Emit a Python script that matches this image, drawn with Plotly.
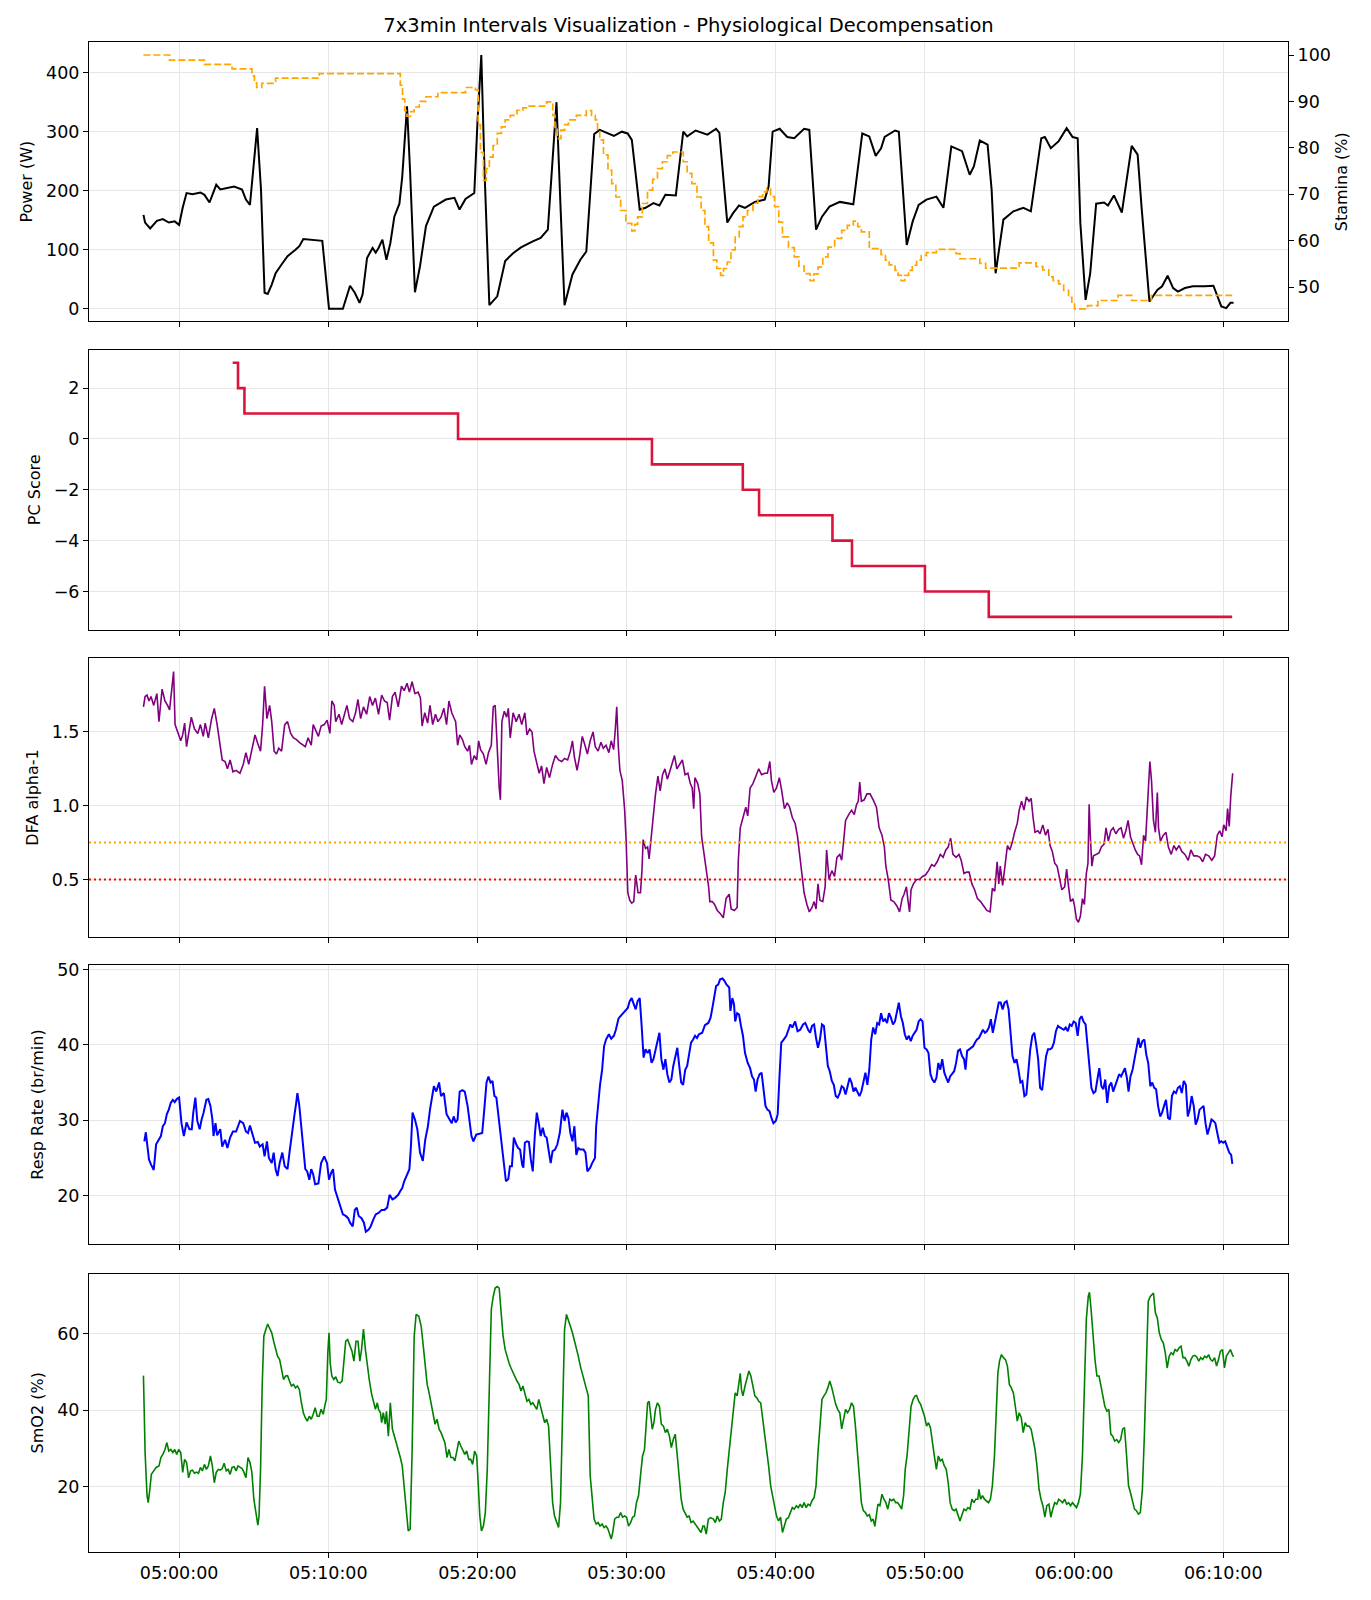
import pandas as pd
import plotly.graph_objects as go

# ---------------- data (t = minutes relative to 05:00:00) ----------------
power_pts = [(-2.39,159),(-2.28,146),(-1.94,136),(-1.49,149),(-1.09,152),(-0.69,146),(-0.29,148),(0,142),(0.24,171),(0.5,196),(0.9,194),(1.43,197),(1.7,193),(2.04,180),(2.49,210),(2.76,202),(3.69,207),(4.22,202),(4.48,185),(4.75,176),(5.23,306),(5.49,202),(5.73,27),(5.94,25),(6.21,41),(6.47,60),(6.87,75),(7.27,89),(7.8,100),(8.06,106),(8.33,118),(9.0,117),(9.6,115),(10.05,0),(10.98,0),(11.46,39),(11.78,27),(12.1,10),(12.3,24),(12.6,86),(12.97,103),(13.18,95),(13.37,103),(13.63,117),(13.9,83),(14.16,111),(14.43,156),(14.77,178),(14.96,224),(15.28,343),(15.49,230),(15.81,28),(16.15,72),(16.55,140),(17.08,173),(17.48,179),(17.88,185),(18.46,188),(18.8,168),(19.2,186),(19.6,192),(19.79,196),(20.0,315),(20.26,430),(20.48,230),(20.8,6),(21.33,21),(21.86,81),(22.39,94),(22.92,104),(23.71,114),(24.24,120),(24.72,134),(24.9,207),(25.3,350),(25.57,173),(25.84,6),(26.37,58),(26.9,83),(27.3,97),(27.56,202),(27.83,296),(28.2,303),(29.15,293),(29.68,300),(30.07,297),(30.35,286),(30.88,168),(31.27,171),(31.8,179),(32.2,175),(32.6,193),(33.3,192),(33.53,241),(33.8,300),(34.06,292),(34.63,302),(35.42,295),(36.0,305),(36.22,298),(36.75,146),(37.14,162),(37.54,175),(37.94,171),(38.6,181),(39.26,185),(39.52,207),(39.79,300),(40.26,305),(40.77,291),(41.24,289),(41.9,305),(42.25,303),(42.7,134),(43.1,156),(43.6,173),(44.3,181),(45.2,177),(45.6,264),(45.8,297),(46.27,292),(46.7,259),(47.06,272),(47.3,291),(48.0,302),(48.25,300),(48.78,108),(49.18,148),(49.58,176),(50.1,185),(50.77,190),(51.24,171),(51.77,275),(52.49,267),(53.0,227),(53.28,241),(53.68,285),(54.2,278),(54.47,202),(54.74,60),(55.26,151),(55.93,165),(56.6,171),(57.1,165),(57.8,289),(58.04,291),(58.44,272),(58.97,284),(59.5,306),(59.9,291),(60.24,289),(60.42,145),(60.77,15),(61.08,60),(61.48,178),(62.01,180),(62.27,175),(62.67,192),(63.2,163),(63.47,207),(63.86,276),(64.26,261),(64.52,173),(65.05,12),(65.58,32),(65.9,38),(66.27,56),(66.64,35),(66.96,29),(67.43,35),(67.96,38),(68.76,38),(69.34,39),(69.87,4),(70.2,1),(70.48,10),(70.69,10)]

stamina_pts = [(-2.39,100),(-0.64,98.9),(1.7,98),(3.55,97),(4.88,95.5),(5.05,94),(5.2,93),(5.54,93.9),(6.47,95),(9.39,96),(14.83,93.5),(14.98,90.5),(15.13,88),(15.28,86.8),(15.52,87.8),(15.76,88.8),(16.1,90),(16.55,91),(17.35,91.9),(19.2,93),(19.87,92.5),(20.05,85),(20.2,79),(20.4,73),(20.6,75.5),(20.8,78),(21.05,80.5),(21.33,83.1),(21.6,84.5),(21.86,86),(22.2,87),(22.65,88.1),(23.05,88.6),(23.45,89),(24.64,89.9),(25.05,87),(25.2,84),(25.35,82),(25.6,83.8),(25.85,85),(26.1,86),(26.63,87),(27.3,88),(27.65,87),(27.9,86),(28.05,84),(28.2,81.7),(28.45,78.5),(28.75,75.2),(29.0,72.3),(29.28,69.4),(29.6,66.5),(29.95,63.7),(30.35,62.1),(30.55,63.5),(30.74,65.1),(31.05,68),(31.4,70.9),(31.75,73.2),(32.07,75.5),(32.4,77),(32.73,78.3),(33.1,79.1),(33.8,77),(34.06,74.5),(34.37,72.3),(34.72,69.4),(35.0,66.5),(35.25,63),(35.5,59.5),(35.82,55.8),(36.05,54),(36.3,52.5),(36.5,54),(36.75,55.4),(37.0,58),(37.28,60.8),(37.55,63),(37.8,65.1),(38.1,66.5),(38.47,68.1),(38.8,69.5),(39.13,70.5),(39.4,71.2),(39.65,69.5),(39.92,67.3),(40.2,64),(40.45,60.8),(40.85,58.5),(41.24,56.5),(41.55,54.5),(41.9,52.9),(42.3,51.4),(42.55,52.8),(42.83,54.3),(43.15,56.5),(43.5,58.6),(43.95,60.5),(44.42,62.2),(44.8,63.3),(45.2,64.2),(45.5,63),(45.74,61.9),(46.27,58.3),(47.06,57),(47.35,55.8),(47.6,54.8),(48.0,53.6),(48.2,52.5),(48.4,51.4),(48.65,52.5),(48.9,53.6),(49.15,54.7),(49.44,55.8),(49.75,56.8),(50.1,57.4),(50.77,58.1),(52.09,57.2),(52.35,56.1),(53.68,55.1),(54.07,54.1),(56.32,55.2),(57.45,54.4),(57.9,53.7),(58.3,52.2),(58.6,51.4),(58.97,50.7),(59.3,49.3),(59.63,47.8),(59.85,46.5),(60.03,45.3),(60.9,46),(61.6,47.1),(62.94,48.2),(63.86,47.1),(65.18,48.2),(70.6,48.2)]

pc_pts = [(3.59,3),(3.95,2),(4.38,1),(18.70,0),(31.70,-1),(37.79,-2),(38.88,-3),(43.80,-4),(45.11,-5),(50.0,-6),(54.28,-7),(70.6,-7)]

dfa_pts = [(-2.39,1.67),(-2.28,1.74),(-2.15,1.75),(-2.02,1.71),(-1.88,1.74),(-1.7,1.68),(-1.49,1.76),(-1.35,1.57),(-1.14,1.79),(-0.95,1.71),(-0.77,1.68),(-0.64,1.65),(-0.48,1.80),(-0.37,1.91),(-0.27,1.55),(-0.11,1.50),(0.11,1.44),(0.24,1.48),(0.37,1.56),(0.5,1.40),(0.64,1.50),(0.82,1.60),(1.03,1.52),(1.25,1.49),(1.43,1.55),(1.62,1.47),(1.75,1.56),(1.96,1.46),(2.18,1.59),(2.36,1.66),(2.55,1.55),(2.71,1.45),(2.89,1.31),(3.08,1.30),(3.24,1.25),(3.42,1.31),(3.61,1.23),(3.82,1.24),(4.08,1.22),(4.3,1.28),(4.48,1.36),(4.67,1.28),(4.88,1.39),(5.09,1.48),(5.28,1.42),(5.46,1.37),(5.6,1.55),(5.73,1.81),(5.89,1.59),(6.07,1.68),(6.21,1.57),(6.37,1.37),(6.53,1.35),(6.68,1.39),(6.87,1.37),(7.08,1.55),(7.27,1.57),(7.48,1.49),(7.67,1.46),(7.85,1.45),(8.06,1.43),(8.28,1.41),(8.46,1.40),(8.65,1.46),(8.86,1.41),(8.99,1.55),(9.18,1.50),(9.34,1.47),(9.52,1.54),(9.73,1.55),(9.92,1.58),(10.11,1.49),(10.24,1.71),(10.4,1.68),(10.5,1.57),(10.72,1.62),(10.9,1.55),(11.11,1.62),(11.25,1.68),(11.43,1.59),(11.64,1.57),(11.83,1.63),(11.99,1.72),(12.17,1.59),(12.36,1.67),(12.57,1.62),(12.78,1.74),(12.97,1.68),(13.16,1.73),(13.37,1.62),(13.58,1.75),(13.77,1.71),(13.95,1.70),(14.11,1.58),(14.3,1.74),(14.48,1.77),(14.69,1.67),(14.91,1.81),(15.09,1.78),(15.28,1.83),(15.44,1.77),(15.62,1.84),(15.81,1.76),(16.02,1.77),(16.18,1.73),(16.29,1.54),(16.47,1.63),(16.66,1.56),(16.82,1.68),(17.0,1.55),(17.19,1.62),(17.35,1.57),(17.56,1.60),(17.75,1.66),(17.93,1.55),(18.09,1.71),(18.28,1.63),(18.41,1.60),(18.54,1.57),(18.67,1.41),(18.81,1.48),(18.99,1.45),(19.15,1.40),(19.34,1.37),(19.47,1.41),(19.6,1.28),(19.79,1.34),(19.95,1.31),(20.08,1.44),(20.21,1.38),(20.4,1.35),(20.58,1.28),(20.74,1.36),(20.93,1.41),(21.06,1.67),(21.19,1.68),(21.33,1.37),(21.46,1.12),(21.54,1.04),(21.64,1.57),(21.8,1.64),(21.96,1.60),(22.07,1.66),(22.2,1.46),(22.39,1.63),(22.6,1.57),(22.79,1.62),(22.97,1.55),(23.18,1.63),(23.32,1.48),(23.5,1.52),(23.66,1.50),(23.79,1.37),(23.98,1.28),(24.14,1.22),(24.3,1.27),(24.46,1.15),(24.64,1.26),(24.83,1.19),(25.04,1.28),(25.23,1.34),(25.44,1.31),(25.65,1.30),(25.84,1.32),(26.05,1.31),(26.23,1.37),(26.37,1.44),(26.5,1.33),(26.68,1.24),(26.84,1.33),(27.03,1.47),(27.21,1.41),(27.37,1.35),(27.56,1.44),(27.75,1.50),(27.9,1.40),(28.09,1.37),(28.28,1.43),(28.44,1.39),(28.62,1.41),(28.81,1.36),(28.97,1.44),(29.13,1.38),(29.23,1.50),(29.34,1.67),(29.44,1.41),(29.55,1.24),(29.71,1.17),(29.87,0.97),(29.97,0.76),(30.08,0.41),(30.21,0.36),(30.34,0.34),(30.48,0.35),(30.61,0.53),(30.77,0.41),(30.93,0.41),(31.03,0.56),(31.11,0.77),(31.27,0.71),(31.41,0.72),(31.51,0.64),(31.67,0.83),(31.83,0.97),(31.94,1.08),(32.1,1.20),(32.25,1.10),(32.41,1.21),(32.57,1.25),(32.73,1.18),(32.89,1.23),(33.05,1.28),(33.21,1.34),(33.37,1.25),(33.53,1.28),(33.74,1.31),(33.92,1.21),(34.11,1.22),(34.27,1.15),(34.4,1.12),(34.5,0.98),(34.58,1.19),(34.77,1.15),(34.91,1.08),(35.03,0.79),(35.21,0.67),(35.37,0.54),(35.5,0.45),(35.58,0.35),(35.74,0.35),(35.9,0.33),(36.08,0.29),(36.27,0.27),(36.48,0.24),(36.67,0.37),(36.88,0.40),(37.01,0.30),(37.22,0.29),(37.41,0.31),(37.49,0.63),(37.62,0.85),(37.8,0.92),(37.99,0.99),(38.12,0.93),(38.28,1.12),(38.47,1.15),(38.65,1.20),(38.86,1.25),(39.05,1.21),(39.26,1.22),(39.44,1.22),(39.6,1.30),(39.71,1.17),(39.87,1.09),(40.05,1.12),(40.24,1.19),(40.4,1.10),(40.58,0.98),(40.77,1.02),(40.93,0.99),(41.11,0.92),(41.3,0.88),(41.46,0.79),(41.59,0.67),(41.72,0.54),(41.9,0.41),(42.09,0.33),(42.25,0.28),(42.43,0.31),(42.57,0.35),(42.7,0.30),(42.83,0.47),(42.96,0.36),(43.15,0.35),(43.31,0.45),(43.41,0.70),(43.57,0.50),(43.76,0.56),(43.94,0.52),(44.1,0.65),(44.29,0.67),(44.42,0.63),(44.55,0.76),(44.68,0.90),(44.89,0.94),(45.08,0.97),(45.26,0.94),(45.42,1.01),(45.53,1.03),(45.63,1.16),(45.74,1.03),(45.93,1.04),(46.11,1.08),(46.32,1.08),(46.53,1.04),(46.75,0.99),(46.93,0.85),(47.12,0.80),(47.28,0.72),(47.38,0.59),(47.54,0.50),(47.72,0.36),(47.91,0.35),(48.12,0.32),(48.3,0.28),(48.47,0.37),(48.6,0.40),(48.76,0.45),(48.86,0.36),(48.97,0.28),(49.07,0.43),(49.23,0.47),(49.44,0.50),(49.63,0.50),(49.84,0.52),(50.03,0.53),(50.24,0.56),(50.45,0.60),(50.63,0.59),(50.82,0.62),(51.03,0.67),(51.22,0.65),(51.4,0.70),(51.56,0.72),(51.72,0.78),(51.88,0.67),(52.09,0.65),(52.28,0.67),(52.43,0.63),(52.62,0.54),(52.8,0.55),(52.96,0.55),(53.15,0.47),(53.33,0.43),(53.52,0.37),(53.73,0.35),(53.94,0.32),(54.15,0.29),(54.37,0.28),(54.52,0.44),(54.68,0.42),(54.84,0.62),(54.95,0.47),(55.05,0.59),(55.21,0.46),(55.37,0.61),(55.53,0.73),(55.69,0.70),(55.85,0.75),(56.01,0.82),(56.19,0.88),(56.32,0.97),(56.48,1.03),(56.64,0.97),(56.8,1.06),(56.98,1.03),(57.12,1.05),(57.25,0.92),(57.38,0.82),(57.57,0.83),(57.72,0.81),(57.9,0.87),(58.09,0.80),(58.25,0.84),(58.39,0.73),(58.54,0.69),(58.7,0.61),(58.86,0.59),(59.02,0.50),(59.18,0.43),(59.37,0.45),(59.5,0.57),(59.63,0.45),(59.76,0.35),(59.92,0.37),(60.03,0.32),(60.16,0.23),(60.29,0.21),(60.42,0.25),(60.56,0.37),(60.69,0.33),(60.82,0.54),(60.93,0.61),(61.01,1.01),(61.08,0.81),(61.19,0.59),(61.3,0.66),(61.48,0.67),(61.67,0.68),(61.83,0.72),(62.01,0.74),(62.14,0.85),(62.3,0.76),(62.46,0.83),(62.62,0.85),(62.8,0.81),(62.99,0.84),(63.15,0.85),(63.31,0.78),(63.47,0.83),(63.62,0.90),(63.78,0.79),(63.94,0.74),(64.1,0.70),(64.26,0.67),(64.39,0.66),(64.52,0.60),(64.66,0.80),(64.79,0.76),(64.92,0.97),(65.0,1.15),(65.08,1.30),(65.19,1.17),(65.32,0.90),(65.45,0.82),(65.58,1.09),(65.66,0.85),(65.79,0.76),(65.98,0.80),(66.16,0.82),(66.32,0.72),(66.51,0.67),(66.69,0.73),(66.85,0.70),(67.04,0.73),(67.22,0.69),(67.43,0.67),(67.65,0.63),(67.83,0.70),(68.02,0.66),(68.23,0.66),(68.44,0.65),(68.62,0.62),(68.81,0.67),(69.02,0.66),(69.23,0.63),(69.42,0.66),(69.6,0.80),(69.76,0.83),(69.92,0.79),(70.03,0.87),(70.19,0.83),(70.29,0.98),(70.4,0.86),(70.5,1.06),(70.63,1.22)]

resp_pts = [(-2.33,27.2),(-2.23,28.4),(-2.15,27.0),(-2.02,24.8),(-1.88,24.1),(-1.7,23.4),(-1.54,26.8),(-1.35,27.4),(-1.22,27.9),(-1.09,29.2),(-0.95,29.6),(-0.82,30.8),(-0.69,31.4),(-0.56,32.3),(-0.42,32.7),(-0.29,32.4),(-0.16,32.8),(0,33.0),(0.16,29.6),(0.32,27.9),(0.5,29.7),(0.69,28.8),(0.85,28.8),(0.95,31.0),(1.09,33.0),(1.22,29.9),(1.38,28.8),(1.51,30.1),(1.64,31.0),(1.83,32.7),(1.96,32.8),(2.1,31.9),(2.23,30.1),(2.31,27.9),(2.44,29.6),(2.55,28.0),(2.76,28.8),(2.89,26.5),(3.08,27.4),(3.24,26.3),(3.42,27.7),(3.61,28.5),(3.82,28.5),(4.08,29.9),(4.3,29.6),(4.48,28.5),(4.62,28.3),(4.75,29.3),(4.93,27.9),(5.09,27.0),(5.28,27.1),(5.41,26.5),(5.6,26.8),(5.73,25.2),(5.89,27.2),(6.02,25.0),(6.21,24.3),(6.34,25.7),(6.47,23.5),(6.6,22.6),(6.74,24.3),(6.92,25.7),(7.08,23.9),(7.27,23.5),(7.4,25.7),(7.53,27.9),(7.72,30.5),(7.85,32.3),(7.93,33.6),(8.06,31.9),(8.2,28.8),(8.33,26.1),(8.46,23.5),(8.59,23.2),(8.73,22.1),(8.86,23.5),(8.99,22.8),(9.12,21.5),(9.34,21.6),(9.52,24.3),(9.73,25.2),(9.92,24.3),(10.05,22.1),(10.19,23.0),(10.32,23.5),(10.45,20.8),(10.64,19.7),(10.8,18.6),(10.98,17.5),(11.17,17.3),(11.33,17.0),(11.46,16.4),(11.64,15.9),(11.78,18.1),(11.91,18.4),(12.04,17.3),(12.23,17.0),(12.39,16.4),(12.52,15.2),(12.71,15.5),(12.84,15.9),(13.02,16.8),(13.18,17.5),(13.37,17.7),(13.58,18.1),(13.77,18.1),(13.95,18.4),(14.11,20.1),(14.3,19.5),(14.48,19.7),(14.69,20.1),(14.83,20.6),(14.96,21.0),(15.09,21.9),(15.28,22.8),(15.44,23.5),(15.54,26.5),(15.65,31.0),(15.81,30.1),(15.97,28.8),(16.15,25.7),(16.34,24.6),(16.5,27.4),(16.68,29.2),(16.82,31.4),(16.95,33.2),(17.08,34.5),(17.24,33.8),(17.43,35.0),(17.56,33.2),(17.75,33.6),(17.93,30.8),(18.09,30.2),(18.28,29.6),(18.41,30.5),(18.54,29.7),(18.67,30.1),(18.81,33.8),(18.99,34.0),(19.15,33.8),(19.34,31.9),(19.47,29.6),(19.6,27.9),(19.73,27.2),(19.92,28.1),(20.13,28.2),(20.32,28.3),(20.48,31.9),(20.61,35.0),(20.74,35.8),(20.88,35.0),(21.01,35.2),(21.14,33.2),(21.27,33.0),(21.38,31.0),(21.51,29.2),(21.64,26.5),(21.78,23.9),(21.91,21.9),(22.07,22.2),(22.18,23.9),(22.31,23.9),(22.44,27.7),(22.6,26.8),(22.73,26.3),(22.86,26.1),(23.0,24.1),(23.08,23.7),(23.18,27.0),(23.32,27.2),(23.45,27.1),(23.58,24.8),(23.71,23.2),(23.85,28.1),(23.98,31.0),(24.11,29.6),(24.24,27.9),(24.38,29.0),(24.51,27.9),(24.64,27.7),(24.77,25.9),(24.91,24.3),(25.04,25.9),(25.2,26.1),(25.36,26.8),(25.52,28.3),(25.7,31.4),(25.84,29.9),(25.97,31.0),(26.1,30.3),(26.23,28.3),(26.37,27.2),(26.5,29.2),(26.63,25.4),(26.76,26.3),(26.9,26.1),(27.11,26.1),(27.24,25.7),(27.37,23.2),(27.56,23.7),(27.69,24.3),(27.88,25.0),(27.96,29.2),(28.09,32.3),(28.22,34.7),(28.36,36.7),(28.49,39.8),(28.62,40.7),(28.81,41.4),(28.97,40.8),(29.15,41.2),(29.28,42.0),(29.46,43.5),(29.68,44.0),(29.87,44.5),(30.08,44.9),(30.21,45.8),(30.34,46.2),(30.48,45.4),(30.61,44.7),(30.74,45.8),(30.88,46.2),(31.01,42.5),(31.14,38.3),(31.27,39.4),(31.41,38.9),(31.54,39.4),(31.67,37.6),(31.8,38.1),(31.94,39.2),(32.07,40.5),(32.2,41.6),(32.33,38.1),(32.47,36.7),(32.6,38.1),(32.73,36.1),(32.87,35.0),(33.0,35.4),(33.13,37.2),(33.26,38.5),(33.4,39.6),(33.53,37.2),(33.66,35.0),(33.79,34.7),(33.93,36.7),(34.06,37.2),(34.19,38.7),(34.32,40.3),(34.46,40.7),(34.59,41.2),(34.72,40.9),(34.85,41.4),(35.07,41.6),(35.25,42.6),(35.48,42.9),(35.63,43.6),(35.77,45.1),(35.9,46.5),(36.0,47.8),(36.14,48.0),(36.27,48.7),(36.43,48.8),(36.56,48.5),(36.69,48.0),(36.88,47.6),(36.96,44.5),(37.09,46.2),(37.2,45.4),(37.28,43.1),(37.41,44.2),(37.54,44.0),(37.67,42.5),(37.8,41.2),(37.94,38.9),(38.12,37.6),(38.28,36.9),(38.41,35.8),(38.54,35.4),(38.65,33.8),(38.78,35.4),(38.92,36.1),(39.05,36.3),(39.18,33.6),(39.31,31.9),(39.44,31.4),(39.58,31.2),(39.71,30.3),(39.84,29.6),(40.0,29.9),(40.13,30.8),(40.24,35.4),(40.37,40.3),(40.53,40.7),(40.71,41.2),(40.85,42.0),(40.98,42.7),(41.11,42.3),(41.3,43.1),(41.46,41.8),(41.64,42.0),(41.83,42.7),(41.98,42.9),(42.17,42.0),(42.3,41.6),(42.43,42.5),(42.57,42.7),(42.7,40.9),(42.83,39.6),(42.96,40.7),(43.1,42.7),(43.23,42.5),(43.36,39.8),(43.49,37.2),(43.62,36.5),(43.76,35.2),(43.89,34.7),(44.02,33.2),(44.15,33.0),(44.29,33.6),(44.42,34.5),(44.55,34.3),(44.68,33.4),(44.81,34.7),(44.95,35.6),(45.08,35.0),(45.21,33.8),(45.34,34.3),(45.48,33.8),(45.61,33.2),(45.74,33.8),(45.87,35.0),(46.01,36.3),(46.14,34.7),(46.27,36.7),(46.4,40.7),(46.53,42.3),(46.67,41.4),(46.8,42.9),(46.93,42.7),(47.06,44.2),(47.2,43.1),(47.33,43.4),(47.46,42.9),(47.59,44.2),(47.72,43.6),(47.86,42.7),(47.99,43.1),(48.12,44.2),(48.25,45.6),(48.39,43.8),(48.52,42.9),(48.65,41.4),(48.78,40.7),(48.92,41.2),(49.05,40.5),(49.18,41.2),(49.31,41.6),(49.44,42.0),(49.58,43.1),(49.71,43.4),(49.84,43.1),(49.97,39.6),(50.11,39.4),(50.24,38.9),(50.37,36.1),(50.5,35.4),(50.63,35.0),(50.77,35.6),(50.9,37.6),(51.03,36.7),(51.16,38.1),(51.3,36.3),(51.43,35.6),(51.56,35.0),(51.69,35.8),(51.83,36.1),(51.96,36.5),(52.09,37.6),(52.22,39.2),(52.35,39.4),(52.49,38.5),(52.62,38.1),(52.72,36.7),(52.83,39.2),(52.96,39.4),(53.1,39.6),(53.23,39.8),(53.36,40.3),(53.49,40.7),(53.62,40.9),(53.76,41.4),(53.89,42.0),(54.02,41.6),(54.15,41.8),(54.29,42.3),(54.42,43.4),(54.55,41.6),(54.68,42.9),(54.81,43.8),(54.95,45.6),(55.08,45.6),(55.21,44.7),(55.34,45.6),(55.48,45.8),(55.61,44.7),(55.74,41.6),(55.87,38.5),(56.01,37.6),(56.14,38.1),(56.27,36.7),(56.4,35.0),(56.53,35.2),(56.67,33.2),(56.8,33.4),(56.93,36.7),(57.06,39.4),(57.2,41.2),(57.33,41.6),(57.46,40.0),(57.59,38.1),(57.72,34.3),(57.86,34.0),(57.99,36.3),(58.12,38.5),(58.25,39.4),(58.39,39.4),(58.52,39.6),(58.65,40.3),(58.78,41.8),(58.92,42.5),(59.05,42.3),(59.18,42.1),(59.31,42.0),(59.44,42.3),(59.58,41.8),(59.71,42.7),(59.84,42.5),(59.97,43.1),(60.11,42.9),(60.24,41.2),(60.37,43.4),(60.5,43.8),(60.63,43.1),(60.77,42.7),(60.9,39.8),(61.03,36.7),(61.16,34.3),(61.3,33.6),(61.43,33.8),(61.56,35.4),(61.69,36.9),(61.83,34.5),(61.96,34.1),(62.09,35.4),(62.22,32.3),(62.35,34.5),(62.49,35.0),(62.62,33.8),(62.75,34.5),(62.88,35.2),(63.02,36.1),(63.15,35.8),(63.28,36.3),(63.41,36.9),(63.54,35.6),(63.65,33.8),(63.78,35.8),(63.92,36.7),(64.05,38.1),(64.18,39.4),(64.31,40.9),(64.44,39.6),(64.58,40.5),(64.71,40.7),(64.84,38.7),(64.97,37.6),(65.11,34.5),(65.24,35.0),(65.37,34.3),(65.5,34.1),(65.63,31.9),(65.77,30.5),(65.9,31.0),(66.03,31.9),(66.16,32.7),(66.3,30.3),(66.43,30.1),(66.56,33.2),(66.69,33.8),(66.83,33.6),(66.96,34.3),(67.09,34.5),(67.22,33.6),(67.35,35.2),(67.49,34.7),(67.62,30.5),(67.75,31.4),(67.88,33.2),(68.02,31.9),(68.15,29.4),(68.28,30.1),(68.41,31.4),(68.54,31.6),(68.68,31.9),(68.81,29.6),(68.94,28.1),(69.07,29.0),(69.21,30.1),(69.34,29.9),(69.47,29.6),(69.6,28.3),(69.74,27.0),(69.87,27.2),(70.0,27.0),(70.13,27.2),(70.26,26.5),(70.4,25.7),(70.53,25.4),(70.61,24.2)]

smo2_pts = [(-2.39,49.0),(-2.28,28.9),(-2.15,17.6),(-2.07,15.8),(-1.96,19.3),(-1.86,23.2),(-1.7,24.1),(-1.54,25.0),(-1.35,25.4),(-1.22,27.6),(-1.09,28.4),(-0.95,29.7),(-0.82,31.5),(-0.69,29.3),(-0.56,29.7),(-0.42,28.9),(-0.29,29.7),(-0.16,28.4),(-0.03,29.7),(0.11,28.9),(0.24,23.7),(0.37,27.1),(0.5,26.3),(0.64,22.3),(0.77,24.1),(0.9,24.3),(1.03,23.5),(1.17,23.8),(1.3,23.5),(1.43,25.0),(1.56,24.1),(1.7,25.8),(1.83,24.5),(1.96,25.4),(2.1,28.0),(2.23,25.4),(2.36,21.0),(2.49,23.7),(2.63,24.5),(2.76,24.3),(2.89,24.7),(3.02,26.1),(3.16,24.1),(3.29,24.5),(3.42,23.2),(3.55,25.0),(3.69,25.2),(3.82,24.1),(3.95,25.4),(4.08,25.0),(4.22,24.7),(4.35,23.7),(4.48,22.3),(4.62,27.6),(4.75,26.3),(4.88,23.7),(5.01,16.7),(5.15,13.2),(5.28,9.9),(5.36,12.3),(5.46,24.5),(5.57,46.3),(5.68,59.3),(5.81,61.0),(5.94,62.5),(6.07,61.4),(6.21,60.2),(6.34,58.0),(6.47,56.3),(6.6,54.1),(6.74,53.2),(6.87,51.0),(7.0,48.0),(7.14,48.9),(7.27,49.0),(7.4,47.6),(7.53,46.3),(7.67,46.7),(7.8,45.8),(7.93,46.3),(8.06,45.4),(8.2,41.9),(8.33,39.3),(8.46,38.0),(8.59,37.1),(8.73,38.4),(8.86,37.6),(8.99,38.9),(9.12,40.6),(9.26,38.4),(9.39,38.4),(9.52,40.2),(9.66,38.9),(9.79,41.5),(9.87,42.8),(9.97,55.0),(10.05,60.2),(10.13,52.3),(10.24,48.9),(10.37,48.0),(10.5,48.7),(10.64,47.3),(10.8,47.1),(10.93,47.6),(11.03,51.5),(11.17,58.0),(11.3,58.4),(11.46,56.7),(11.59,55.4),(11.72,52.8),(11.86,58.0),(11.99,58.0),(12.12,52.8),(12.23,55.8),(12.36,61.2),(12.49,55.8),(12.63,51.0),(12.76,47.6),(12.89,44.5),(13.02,42.3),(13.16,40.2),(13.29,41.9),(13.37,40.2),(13.5,39.3),(13.58,36.7),(13.69,39.3),(13.82,36.3),(13.9,39.7),(14.03,33.2),(14.16,41.9),(14.3,35.0),(14.43,33.2),(14.56,31.5),(14.69,29.3),(14.83,27.6),(14.96,25.4),(15.09,20.2),(15.23,13.2),(15.36,8.4),(15.49,8.9),(15.62,28.9),(15.76,59.3),(15.89,65.0),(16.07,64.5),(16.23,61.9),(16.37,56.7),(16.5,51.5),(16.63,46.7),(16.76,44.5),(16.9,41.9),(17.03,39.3),(17.16,36.3),(17.29,37.6),(17.43,35.0),(17.56,34.1),(17.69,32.8),(17.82,31.5),(17.96,27.6),(18.09,29.7),(18.22,27.6),(18.36,27.6),(18.49,26.7),(18.62,29.8),(18.75,31.9),(18.89,30.6),(19.02,29.7),(19.15,28.4),(19.28,29.3),(19.42,27.1),(19.55,27.1),(19.68,25.8),(19.81,29.3),(19.95,28.0),(20.05,21.0),(20.16,12.3),(20.27,8.4),(20.4,9.7),(20.53,13.2),(20.66,24.5),(20.8,46.3),(20.93,66.3),(21.06,69.7),(21.19,71.9),(21.33,72.3),(21.46,71.9),(21.59,65.4),(21.72,59.3),(21.86,55.8),(21.99,53.7),(22.12,52.3),(22.25,51.0),(22.39,49.7),(22.52,48.4),(22.65,47.6),(22.79,46.7),(22.92,45.0),(23.05,46.3),(23.18,44.5),(23.32,42.3),(23.45,42.8),(23.58,41.5),(23.71,41.9),(23.85,41.0),(23.98,40.2),(24.11,42.8),(24.24,41.0),(24.38,38.4),(24.51,36.7),(24.64,37.6),(24.77,35.8),(24.91,25.4),(25.04,15.8),(25.17,12.3),(25.3,10.6),(25.44,9.3),(25.57,15.8),(25.7,37.6),(25.84,61.0),(25.97,65.0),(26.1,63.7),(26.23,61.9),(26.37,60.2),(26.5,58.4),(26.63,56.3),(26.76,54.1),(26.9,51.5),(27.03,49.7),(27.16,48.0),(27.29,46.3),(27.43,43.7),(27.56,22.8),(27.69,15.8),(27.82,11.5),(27.96,10.2),(28.09,10.6),(28.22,9.7),(28.36,10.2),(28.49,9.3),(28.62,9.7),(28.75,8.9),(28.89,7.1),(28.97,6.3),(29.07,8.0),(29.2,11.5),(29.34,12.0),(29.47,12.0),(29.6,13.2),(29.73,12.0),(29.87,12.3),(30.0,12.0),(30.13,9.7),(30.27,10.6),(30.4,12.0),(30.53,12.3),(30.66,15.8),(30.8,17.6),(30.93,22.8),(31.07,28.0),(31.2,29.7),(31.3,35.0),(31.41,41.9),(31.51,42.3),(31.62,38.4),(31.72,35.0),(31.83,36.7),(31.94,40.2),(32.07,41.9),(32.2,41.0),(32.33,36.3),(32.47,35.8),(32.6,34.1),(32.73,35.0),(32.87,33.2),(33.0,30.2),(33.13,32.3),(33.26,33.7),(33.4,28.0),(33.53,22.8),(33.66,16.7),(33.79,14.1),(33.93,13.2),(34.06,12.0),(34.19,12.3),(34.32,10.6),(34.46,11.0),(34.59,10.2),(34.72,9.7),(34.85,8.9),(34.99,8.0),(35.12,9.7),(35.21,9.7),(35.34,7.6),(35.48,11.5),(35.63,11.9),(35.82,11.5),(35.95,10.6),(36.08,12.3),(36.22,11.0),(36.35,11.5),(36.48,15.8),(36.61,18.4),(36.75,24.5),(36.88,29.7),(37.01,35.0),(37.14,39.3),(37.28,44.5),(37.41,43.7),(37.54,48.0),(37.62,49.6),(37.7,45.4),(37.8,43.7),(37.94,46.3),(38.07,48.0),(38.2,50.2),(38.33,48.9),(38.47,46.3),(38.6,43.7),(38.73,43.2),(38.86,42.3),(38.99,41.9),(39.13,37.6),(39.26,34.1),(39.39,30.6),(39.52,25.4),(39.66,20.2),(39.79,17.6),(39.92,15.4),(40.05,12.3),(40.19,11.0),(40.32,12.0),(40.45,8.0),(40.58,9.7),(40.71,11.5),(40.85,11.9),(40.98,13.2),(41.11,14.5),(41.24,14.1),(41.38,15.0),(41.51,14.5),(41.64,15.4),(41.77,14.5),(41.9,15.8),(42.04,14.5),(42.17,15.4),(42.3,15.0),(42.43,16.3),(42.57,17.1),(42.7,20.2),(42.83,28.9),(42.96,35.0),(43.1,42.8),(43.23,43.7),(43.36,44.5),(43.49,45.8),(43.62,47.6),(43.76,45.8),(43.89,43.2),(44.02,41.5),(44.15,40.2),(44.29,39.3),(44.42,35.1),(44.55,37.6),(44.68,40.2),(44.81,39.3),(44.95,40.2),(45.08,41.9),(45.21,41.0),(45.34,35.8),(45.48,28.9),(45.61,21.9),(45.74,15.8),(45.87,13.7),(46.01,13.2),(46.14,12.3),(46.27,12.7),(46.4,11.0),(46.53,11.5),(46.64,9.6),(46.75,12.3),(46.85,15.4),(46.98,15.0),(47.12,18.0),(47.25,16.7),(47.38,15.8),(47.51,14.1),(47.65,16.7),(47.78,16.3),(47.91,16.7),(48.04,15.8),(48.17,15.8),(48.31,15.0),(48.44,14.1),(48.57,17.6),(48.68,24.5),(48.81,28.4),(48.94,35.0),(49.07,41.0),(49.21,42.8),(49.34,43.7),(49.44,43.8),(49.58,42.3),(49.71,41.5),(49.84,40.2),(49.97,38.4),(50.11,35.8),(50.24,36.7),(50.37,35.4),(50.5,32.3),(50.63,28.0),(50.77,24.5),(50.9,28.0),(51.03,26.7),(51.16,27.1),(51.3,25.4),(51.43,24.5),(51.56,21.0),(51.69,15.8),(51.83,14.1),(51.96,13.7),(52.09,14.1),(52.22,12.3),(52.35,11.0),(52.49,12.7),(52.62,14.1),(52.75,13.7),(52.88,14.5),(53.02,14.1),(53.15,16.7),(53.28,15.8),(53.41,16.7),(53.54,16.7),(53.62,19.3),(53.73,16.7),(53.86,17.6),(53.99,16.7),(54.13,16.3),(54.26,15.8),(54.39,16.7),(54.52,20.2),(54.66,28.0),(54.79,41.9),(54.89,49.7),(55.0,52.8),(55.13,54.5),(55.26,53.7),(55.4,53.2),(55.53,51.5),(55.66,46.7),(55.79,45.8),(55.93,44.5),(56.06,41.0),(56.19,37.1),(56.32,39.3),(56.46,38.0),(56.59,34.1),(56.72,36.7),(56.85,35.8),(56.98,35.8),(57.12,35.0),(57.25,32.3),(57.38,29.7),(57.51,25.4),(57.65,19.3),(57.78,16.7),(57.91,15.0),(58.04,12.0),(58.17,15.0),(58.31,15.4),(58.44,12.0),(58.57,14.1),(58.7,15.8),(58.84,15.4),(58.97,16.7),(59.1,16.3),(59.23,15.8),(59.37,16.7),(59.5,15.4),(59.63,15.8),(59.76,15.0),(59.89,15.8),(60.03,15.0),(60.16,14.5),(60.29,15.8),(60.42,18.0),(60.56,28.0),(60.69,46.3),(60.82,63.7),(60.95,69.7),(61.03,70.8),(61.14,66.3),(61.27,59.3),(61.4,53.2),(61.53,48.9),(61.67,48.9),(61.8,46.3),(61.93,43.7),(62.06,41.0),(62.2,39.7),(62.33,40.2),(62.46,33.7),(62.59,33.2),(62.72,31.9),(62.86,32.3),(62.99,31.5),(63.12,32.3),(63.25,35.0),(63.38,35.4),(63.52,28.0),(63.65,20.2),(63.78,18.4),(63.92,15.8),(64.05,14.1),(64.18,13.7),(64.31,12.8),(64.44,13.2),(64.58,19.3),(64.71,33.2),(64.84,52.3),(64.97,68.4),(65.11,69.7),(65.21,70.2),(65.32,70.6),(65.45,65.4),(65.58,64.1),(65.71,60.2),(65.85,58.4),(65.98,57.6),(66.11,55.0),(66.24,51.0),(66.38,54.1),(66.51,55.0),(66.64,54.5),(66.77,55.8),(66.9,55.4),(67.04,56.3),(67.17,56.7),(67.3,53.7),(67.43,53.7),(67.56,52.8),(67.7,51.5),(67.83,53.2),(67.96,54.1),(68.09,54.3),(68.22,53.9),(68.36,52.8),(68.49,53.7),(68.62,53.2),(68.75,54.1),(68.89,53.7),(69.02,54.5),(69.15,53.2),(69.28,52.8),(69.42,53.7),(69.55,51.5),(69.68,53.2),(69.81,55.4),(69.95,55.8),(70.08,51.0),(70.21,54.1),(70.34,55.0),(70.48,55.8),(70.61,54.5),(70.69,53.9)]

dfa_thresholds = [0.75, 0.5]
tick_minutes = [0, 10, 20, 30, 40, 50, 60, 70]

# ---------------- helpers ----------------
base = pd.Timestamp("2024-01-01 05:00:00")


def tx(pts):
    return [base + pd.Timedelta(minutes=p[0]) for p in pts], [p[1] for p in pts]


FONT = "DejaVu Sans"
FS = 17.5      # tick labels
FS_LAB = 16    # axis titles
FS_TITLE = 19.5
GRID = "#e6e6e6"
W, H = 1371, 1600
ML, MR, MT, MB = 89, 83, 42, 48
plot_h = H - MT - MB


def dom(top_px, bot_px):
    lo = (H - MB - bot_px) / plot_h
    hi = (H - MB - top_px) / plot_h
    return [max(0.0, min(1.0, lo)), max(0.0, min(1.0, hi))]


domains = [dom(42, 321.4), dom(350.0, 629.6), dom(658.2, 936.7), dom(965.3, 1243.8), dom(1273.5, 1552.0)]

fig = go.Figure()

px_, py_ = tx(power_pts)
fig.add_trace(go.Scatter(x=px_, y=py_, mode="lines", line=dict(color="black", width=2),
                         xaxis="x", yaxis="y", showlegend=False))
sx, sy = tx(stamina_pts)
fig.add_trace(go.Scatter(x=sx, y=sy, mode="lines", line=dict(color="#FFA500", width=1.7, dash="7px,3px", shape="hv"),
                         xaxis="x", yaxis="y6", showlegend=False))
cx, cy = tx(pc_pts)
fig.add_trace(go.Scatter(x=cx, y=cy, mode="lines", line=dict(color="#DC143C", width=2.6, shape="hv"),
                         xaxis="x2", yaxis="y2", showlegend=False))
dx, dy = tx(dfa_pts)
fig.add_trace(go.Scatter(x=dx, y=dy, mode="lines", line=dict(color="#800080", width=1.6),
                         xaxis="x3", yaxis="y3", showlegend=False))
rx, ry = tx(resp_pts)
fig.add_trace(go.Scatter(x=rx, y=ry, mode="lines", line=dict(color="#0000FF", width=2),
                         xaxis="x4", yaxis="y4", showlegend=False))
ox, oy = tx(smo2_pts)
fig.add_trace(go.Scatter(x=ox, y=oy, mode="lines", line=dict(color="#008000", width=1.6),
                         xaxis="x5", yaxis="y5", showlegend=False))

for val, col in zip(dfa_thresholds, ["#FFA500", "#FF0000"]):
    fig.add_shape(type="line", xref="x3 domain", x0=0, x1=1, yref="y3", y0=val, y1=val,
                  line=dict(color=col, width=2, dash="2px,3px"), layer="above")

xr = [base + pd.Timedelta(minutes=-6.04), base + pd.Timedelta(minutes=74.34)]
tickv = [base + pd.Timedelta(minutes=m) for m in tick_minutes]

axis_common = dict(showline=True, linecolor="black", linewidth=1, mirror=True,
                   ticks="outside", ticklen=5, tickwidth=1, tickcolor="black",
                   showgrid=True, gridcolor=GRID, gridwidth=1, zeroline=False,
                   tickfont=dict(size=FS, color="black", family=FONT), automargin=False)

layout = dict(width=W, height=H, margin=dict(l=ML, r=MR, t=MT, b=MB),
              paper_bgcolor="white", plot_bgcolor="white",
              font=dict(family=FONT, color="black", size=FS),
              title=dict(text="7x3min Intervals Visualization - Physiological Decompensation",
                         x=0.5, xref="paper", xanchor="center", y=1 - 25.5 / H, yref="container",
                         yanchor="middle", font=dict(size=FS_TITLE, color="black", family=FONT)),
              showlegend=False)

for i in range(1, 6):
    key = "xaxis" if i == 1 else f"xaxis{i}"
    ax = dict(axis_common)
    ax.update(type="date", range=xr, tickvals=tickv, tickformat="%H:%M:%S",
              anchor="y" if i == 1 else f"y{i}", domain=[0, 1],
              showticklabels=(i == 5))
    if i != 5:
        ax["matches"] = "x5"
    layout[key] = ax


def ytitle(t, s=9):
    return dict(text=t, font=dict(size=FS_LAB, color="black", family=FONT), standoff=s)


y1 = dict(axis_common); y1.update(domain=domains[0], anchor="x", range=[-21.5, 452], tickvals=[0, 100, 200, 300, 400],
                                  title=ytitle("Power (W)"))
y2 = dict(axis_common); y2.update(domain=domains[1], anchor="x2", range=[-7.5, 3.5], tickvals=[-6, -4, -2, 0, 2],
                                  ticktext=["\u22126", "\u22124", "\u22122", "0", "2"], title=ytitle("PC Score"))
y3 = dict(axis_common); y3.update(domain=domains[2], anchor="x3", range=[0.112, 2.0], tickvals=[0.5, 1.0, 1.5],
                                  ticktext=["0.5", "1.0", "1.5"], title=ytitle("DFA alpha-1"))
y4 = dict(axis_common); y4.update(domain=domains[3], anchor="x4", range=[13.6, 50.55], tickvals=[20, 30, 40, 50],
                                  title=ytitle("Resp Rate (br/min)"))
y5 = dict(axis_common); y5.update(domain=domains[4], anchor="x5", range=[2.9, 75.7], tickvals=[20, 40, 60],
                                  title=ytitle("SmO2 (%)"))
y6 = dict(showline=False, ticks="outside", ticklen=5, tickwidth=1, tickcolor="black", showgrid=False, zeroline=False,
          tickfont=dict(size=FS, color="black", family=FONT), automargin=False,
          overlaying="y", side="right", anchor="x", range=[42.6, 102.8], tickvals=[50, 60, 70, 80, 90, 100],
          title=ytitle("Stamina (%)", 5))
layout.update(yaxis=y1, yaxis2=y2, yaxis3=y3, yaxis4=y4, yaxis5=y5, yaxis6=y6)

fig.update_layout(**layout)
fig.write_html("out.html")
